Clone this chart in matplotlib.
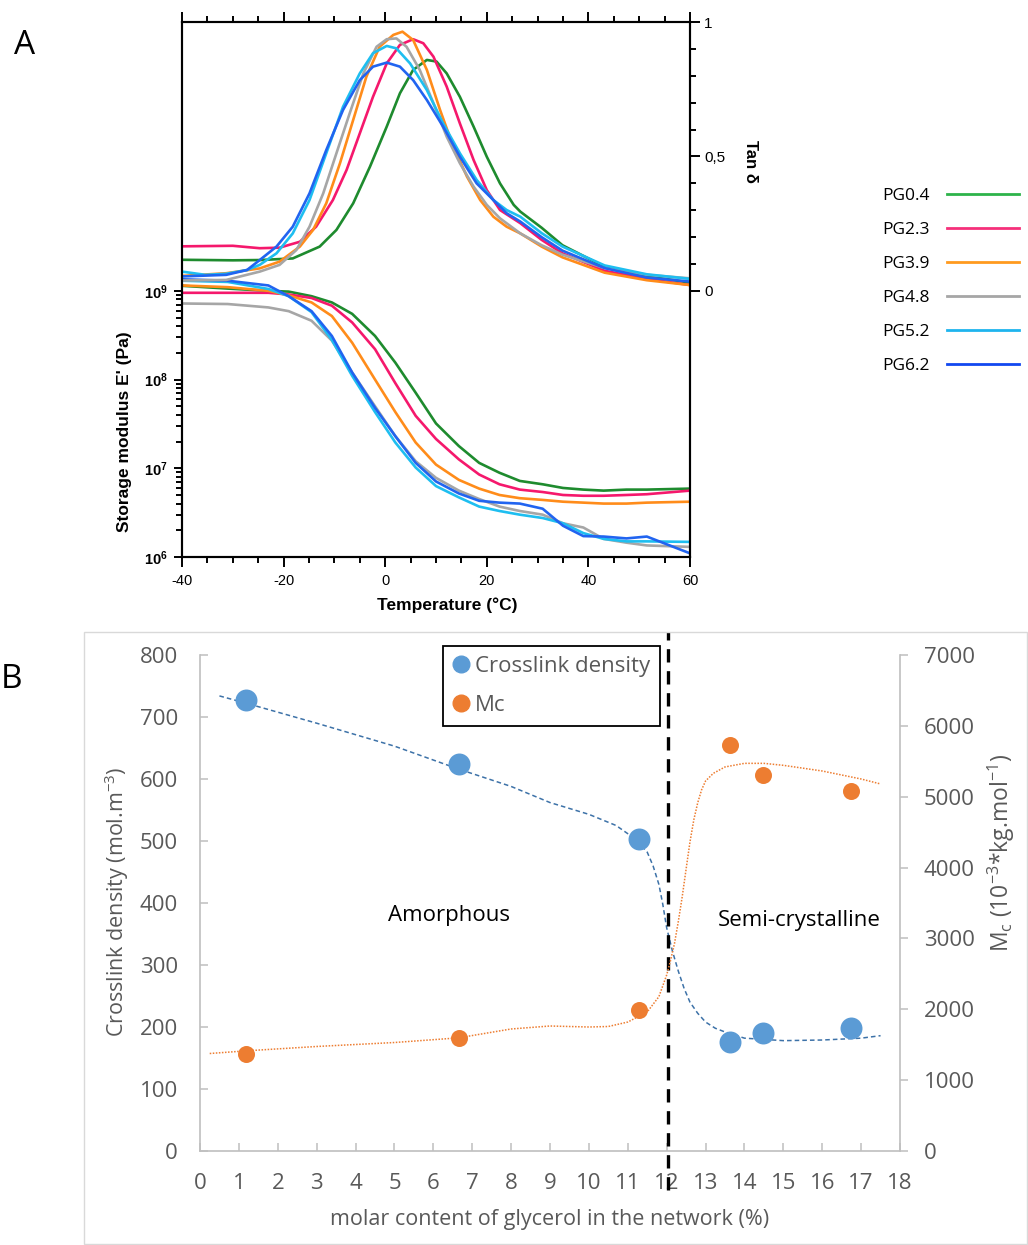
import numpy as np
import matplotlib
matplotlib.use('Agg')
import matplotlib.pyplot as plt
from matplotlib.ticker import FixedLocator, NullFormatter
from matplotlib.lines import Line2D
from matplotlib.patches import Rectangle

plt.rcParams['font.family'] = ['Liberation Sans', 'DejaVu Sans']
plt.rcParams['mathtext.fontset'] = 'custom'
plt.rcParams['mathtext.rm'] = 'Open Sans'
plt.rcParams['mathtext.it'] = 'Open Sans:italic'
plt.rcParams['mathtext.bf'] = 'Liberation Sans:bold'

# ---------------- Panel A data ----------------
samples = ['PG0.4', 'PG2.3', 'PG3.9', 'PG4.8', 'PG5.2', 'PG6.2']
colors_A = ['#1E8B2E', '#F5186C', '#FF8C1A', '#A6A6A6', '#1EBEF0', '#2164F0']
legend_colors_A = ['#2DB34A', '#F5307A', '#FF9A1F', '#A6A6A6', '#1EB4EE', '#1248F0']

T_E = [-40, -31, -23, -19, -14.5, -10.5, -6.5, -2, 2, 6, 10, 14.5, 18.5, 22.5,
       26.5, 31, 35, 39, 43, 47.5, 51.5, 60]
E_PG04 = [1.14e9, 1.06e9, 1.0e9, 9.8e8, 8.7e8, 7.4e8, 5.5e8, 3.1e8, 1.55e8, 7.1e7, 3.2e7,
          1.78e7, 1.15e7, 8.9e6, 7.2e6, 6.6e6, 6.0e6, 5.75e6, 5.6e6, 5.75e6, 5.75e6, 5.9e6]
E_PG23 = [9.5e8, 9.5e8, 9.5e8, 9.1e8, 8.3e8, 6.8e8, 4.4e8, 2.2e8, 9.1e7, 3.9e7, 2.14e7,
          1.26e7, 8.5e6, 6.6e6, 5.75e6, 5.4e6, 5.0e6, 4.9e6, 4.9e6, 5.0e6, 5.1e6, 5.6e6]
E_PG39 = [1.15e9, 1.1e9, 1.0e9, 8.9e8, 7.4e8, 5.2e8, 2.6e8, 1.0e8, 4.3e7, 1.95e7, 1.1e7,
          7.4e6, 5.9e6, 5.0e6, 4.6e6, 4.4e6, 4.2e6, 4.1e6, 4.0e6, 4.0e6, 4.1e6, 4.2e6]
E_PG48 = [7.2e8, 7.1e8, 6.5e8, 5.9e8, 4.6e8, 2.75e8, 1.2e8, 5.0e7, 2.3e7, 1.2e7, 7.8e6,
          5.6e6, 4.5e6, 3.7e6, 3.3e6, 3.0e6, 2.4e6, 2.15e6, 1.6e6, 1.45e6, 1.35e6, 1.3e6]
E_PG52 = [1.3e9, 1.26e9, 1.05e9, 8.7e8, 5.75e8, 2.8e8, 1.1e8, 4.3e7, 1.95e7, 1.02e7, 6.3e6,
          4.7e6, 3.7e6, 3.3e6, 3.0e6, 2.75e6, 2.4e6, 1.86e6, 1.6e6, 1.5e6, 1.5e6, 1.48e6]
E_PG62 = [1.35e9, 1.3e9, 1.15e9, 8.7e8, 5.9e8, 3.1e8, 1.2e8, 4.8e7, 2.3e7, 1.15e7, 7.1e6,
          5.2e6, 4.3e6, 4.1e6, 4.0e6, 3.5e6, 2.25e6, 1.72e6, 1.7e6, 1.62e6, 1.7e6, 1.1e6]
E_all = [E_PG04, E_PG23, E_PG39, E_PG48, E_PG52, E_PG62]

T_tan_PG04 = [-40, -30, -24.7, -18.2, -12.9, -9.6, -6.3, -3.0, 0.3, 2.9, 5.5, 8.2, 10.1, 12.1,
              14.7, 17.4, 20, 22.6, 25.3, 26.6, 30.8, 34.9, 43.2, 51.5, 60]
tan_PG04 = [0.116, 0.114, 0.115, 0.121, 0.165, 0.227, 0.326, 0.462, 0.611, 0.735, 0.822, 0.859,
            0.853, 0.809, 0.722, 0.611, 0.499, 0.40, 0.32, 0.295, 0.235, 0.17, 0.09, 0.055, 0.031]
T_tan_PG23 = [-40, -30, -24.7, -20.8, -16.8, -13.6, -10.3, -7.6, -5, -2.4, 0.3, 2.9, 5.5, 7.5,
              9.5, 12.1, 14.7, 17.4, 20, 22.6, 26.6, 30.8, 34.9, 43.2, 51.5, 60]
tan_PG23 = [0.166, 0.168, 0.159, 0.161, 0.183, 0.239, 0.338, 0.450, 0.586, 0.722, 0.846, 0.915,
            0.936, 0.921, 0.871, 0.76, 0.623, 0.487, 0.375, 0.301, 0.252, 0.19, 0.14, 0.075,
            0.045, 0.022]
T_tan_PG39 = [-40, -31.3, -24.7, -20.8, -16.8, -14.2, -11.6, -8.9, -6.3, -3.7, -1.1, 1.6, 3.4,
              5.5, 8.2, 10.8, 13.4, 16.1, 18.7, 21.3, 23.9, 26.6, 30.8, 34.9, 43.2, 51.5, 60]
tan_PG39 = [0.056, 0.066, 0.084, 0.109, 0.165, 0.227, 0.326, 0.475, 0.636, 0.797, 0.908, 0.952,
            0.964, 0.933, 0.822, 0.673, 0.537, 0.425, 0.338, 0.276, 0.239, 0.214, 0.165, 0.125,
            0.068, 0.04, 0.022]
T_tan_PG48 = [-40, -31.3, -24.7, -20.8, -17.5, -14.9, -12.2, -9.6, -7, -4.3, -1.7, 0.3, 2.2,
              4.2, 6.8, 9.5, 12.1, 14.7, 17.4, 20, 22.6, 26.6, 30.8, 34.9, 43.2, 51.5, 60]
tan_PG48 = [0.039, 0.041, 0.072, 0.097, 0.152, 0.239, 0.363, 0.512, 0.66, 0.809, 0.908, 0.936,
            0.939, 0.908, 0.822, 0.698, 0.574, 0.475, 0.388, 0.32, 0.27, 0.214, 0.17, 0.135,
            0.085, 0.06, 0.047]
T_tan_PG52 = [-40, -35.4, -31.3, -27.2, -24.7, -21.4, -18.2, -14.9, -11.6, -8.3, -5, -2.4, 0.3,
              2.2, 4.9, 8.2, 11.4, 14.7, 18, 21.3, 23.9, 26.6, 30.8, 34.9, 43.2, 51.5, 60]
tan_PG52 = [0.072, 0.06, 0.064, 0.078, 0.097, 0.14, 0.214, 0.338, 0.512, 0.685, 0.809, 0.884,
            0.911, 0.902, 0.846, 0.747, 0.623, 0.512, 0.413, 0.338, 0.301, 0.276, 0.215, 0.165,
            0.095, 0.062, 0.045]
T_tan_PG62 = [-40, -31.3, -27.2, -24.7, -21.4, -18.2, -14.9, -11.6, -8.3, -5, -2.4, 0.3, 2.9,
              5.5, 8.2, 11.4, 14.7, 18, 21.3, 23.9, 26.6, 30.8, 34.9, 43.2, 51.5, 60]
tan_PG62 = [0.054, 0.06, 0.078, 0.115, 0.165, 0.239, 0.363, 0.524, 0.673, 0.784, 0.834, 0.849,
            0.834, 0.784, 0.71, 0.611, 0.499, 0.40, 0.338, 0.289, 0.258, 0.2, 0.15, 0.085,
            0.05, 0.035]
T_tan_all = [T_tan_PG04, T_tan_PG23, T_tan_PG39, T_tan_PG48, T_tan_PG52, T_tan_PG62]
tan_all = [tan_PG04, tan_PG23, tan_PG39, tan_PG48, tan_PG52, tan_PG62]

# ---------------- Panel B data ----------------
glycerol = [1.18, 6.65, 11.28, 13.63, 14.48, 16.75]
crosslink_density = [727, 625, 503, 176, 190, 198]
Mc = [1376, 1598, 1995, 5731, 5305, 5083]
trend_cd_x = [0.5, 1.2, 3, 5, 6.65, 8, 9, 10, 10.7, 11.2, 11.5, 11.65, 11.8, 11.9, 12.0, 12.15,
              12.3, 12.45, 12.6, 12.8, 13.0, 13.25, 13.5, 14, 15, 16, 17, 17.5]
trend_cd_y = [734, 722, 690, 653, 616, 588, 562, 543, 525, 503, 482, 460, 430, 398, 360, 322,
              290, 262, 240, 222, 208, 198, 192, 182, 178, 179, 182, 186]
trend_mc_x = [0.25, 1.2, 3, 5, 6.65, 8, 9, 10, 10.5, 11, 11.5, 11.8, 12.0, 12.1, 12.2, 12.3,
              12.4, 12.5, 12.6, 12.7, 12.8, 12.9, 13.0, 13.2, 13.5, 14, 14.5, 15, 16, 17, 17.5]
trend_mc_y = [1376, 1414, 1475, 1531, 1597, 1722, 1764, 1750, 1757, 1820, 1962, 2178, 2484,
              2690, 2925, 3240, 3589, 3980, 4364, 4680, 4918, 5100, 5222, 5330, 5420, 5471,
              5471, 5443, 5363, 5250, 5180]
boundary_x = 12.03

W, H = 1028, 1245
def fx(px):
    return px / W
def fy(py):
    return 1 - py / H

fig = plt.figure(figsize=(W / 100, H / 100), dpi=100)

# ================= Panel A =================
axA = fig.add_axes([fx(182), fy(557), 508 / W, 535 / H])
axA.set_yscale('log')
axA.set_xlim(-40, 60)
axA.set_ylim(1e6, 10 ** 12.03)
axA2 = axA.twinx()
axA2.set_ylim(-0.989, 1.0)

for E, c in zip(E_all, colors_A):
    axA.plot(T_E, E, color=c, lw=1.9, solid_joinstyle='round')
for Tt, tv, c in zip(T_tan_all, tan_all, colors_A):
    axA2.plot(Tt, tv, color=c, lw=1.9, solid_joinstyle='round')

for a in (axA, axA2):
    for s in a.spines.values():
        s.set_linewidth(1.5)
        s.set_color('black')

axA.xaxis.set_major_locator(FixedLocator([-40, -20, 0, 20, 40, 60]))
axA.xaxis.set_minor_locator(FixedLocator([v for v in range(-35, 60, 5) if v % 20 != 0]))
axA.set_xticklabels(['-40', '-20', '0', '20', '40', '60'])
axA.tick_params(axis='x', which='both', direction='out', top=True, bottom=True,
                width=1.4, labelsize=10.5, pad=5)
axA.tick_params(axis='x', which='major', length=7)
axA.tick_params(axis='x', which='minor', length=4)

axA.yaxis.set_major_locator(FixedLocator([1e6, 1e7, 1e8, 1e9]))
axA.set_yticklabels([r'$\mathbf{10^{6}}$', r'$\mathbf{10^{7}}$', r'$\mathbf{10^{8}}$',
                     r'$\mathbf{10^{9}}$'])
axA.yaxis.set_minor_locator(FixedLocator([k * 10.0 ** e for e in (6, 7, 8) for k in range(2, 10)]))
axA.yaxis.set_minor_formatter(NullFormatter())
axA.tick_params(axis='y', which='both', direction='out', left=True, right=False,
                width=1.4, labelsize=10.5, pad=4)
axA.tick_params(axis='y', which='major', length=6)
axA.tick_params(axis='y', which='minor', length=4)

axA2.yaxis.set_major_locator(FixedLocator([0, 0.5, 1]))
axA2.set_yticklabels(['0', '0,5', '1'])
axA2.yaxis.set_minor_locator(FixedLocator([0.1, 0.2, 0.3, 0.4, 0.6, 0.7, 0.8, 0.9]))
axA2.yaxis.set_minor_formatter(NullFormatter())
axA2.tick_params(axis='y', which='both', direction='out', width=1.4, labelsize=11, pad=3)
axA2.tick_params(axis='y', which='major', length=7)
axA2.tick_params(axis='y', which='minor', length=4)

fig.text(fx(125), fy(432), "Storage modulus E' (Pa)", rotation=90, ha='center', va='center',
         fontsize=12.5, fontweight='bold')
fig.text(fx(750), fy(161), 'Tan δ', rotation=-90, ha='center', va='center',
         fontsize=12, fontweight='bold')
fig.text(fx(447), fy(605), 'Temperature (°C)', ha='center', va='center',
         fontsize=12.5, fontweight='bold')

handles_A = [Line2D([], [], color=c, lw=2) for c in legend_colors_A]
fig.legend(handles_A, samples, loc='upper right', bbox_to_anchor=(fx(1019), fy(188)),
           frameon=False, markerfirst=False, handlelength=4.15, handletextpad=1.0,
           labelspacing=1.03, prop={'family': 'Open Sans', 'size': 12.5},
           borderaxespad=0, borderpad=0)

fig.text(fx(25), fy(45), 'A', ha='center', va='center', fontsize=24, family='Open Sans')

# ================= Panel B =================
grey_spine = '#BFBFBF'
grey_text = '#595959'
blue = '#5B9BD5'
orange = '#ED7D31'

fig.add_artist(Rectangle((fx(84), fy(1244)), (1027 - 84) / W, (1244 - 632) / H,
                         transform=fig.transFigure, fill=False, edgecolor='#D9D9D9', lw=1))

axB = fig.add_axes([fx(200), fy(1151), 700 / W, 496 / H])
axB.set_xlim(0, 18)
axB.set_ylim(0, 800)
axB2 = axB.twinx()
axB2.set_ylim(0, 7000)

axB.plot(trend_cd_x, trend_cd_y, color='#3D72A8', lw=1.1, ls=(0, (3, 2)), zorder=2)
axB.scatter(glycerol, crosslink_density, s=250, color=blue, zorder=3, linewidths=0)
axB2.plot(trend_mc_x, trend_mc_y, color=orange, lw=1.1, ls=(0, (1, 1)), zorder=2)
axB2.scatter(glycerol, Mc, s=150, color=orange, zorder=3, linewidths=0)

axB.axvline(boundary_x, ymin=-0.078, ymax=1.046, clip_on=False, color='black', lw=2.4,
            dashes=(4.0, 2.6), zorder=5)

for a in (axB, axB2):
    a.spines['top'].set_visible(False)
    for s in a.spines.values():
        s.set_color(grey_spine)
        s.set_linewidth(1.2)
axB.spines['right'].set_visible(False)
axB2.spines['left'].set_visible(False)
axB2.spines['bottom'].set_visible(False)

bfont = 'Open Sans'
axB.xaxis.set_major_locator(FixedLocator(list(range(0, 19))))
axB.yaxis.set_major_locator(FixedLocator(list(range(0, 801, 100))))
axB2.yaxis.set_major_locator(FixedLocator(list(range(0, 7001, 1000))))
axB.tick_params(axis='x', direction='in', length=6, width=1.1, color=grey_spine,
                labelcolor=grey_text, labelsize=16, pad=16)
axB.tick_params(axis='y', direction='in', length=6, width=1.1, color=grey_spine,
                labelcolor=grey_text, labelsize=16, pad=16)
axB2.tick_params(axis='y', direction='out', length=6, width=1.1, color=grey_spine,
                 labelcolor=grey_text, labelsize=16, pad=11)
for lab in axB.get_xticklabels() + axB.get_yticklabels() + axB2.get_yticklabels():
    lab.set_family(bfont)

fig.text(fx(117), fy(902), 'Crosslink density (mol.m$^{-3}$)', rotation=90, ha='center',
         va='center', fontsize=15.5, color=grey_text, family=bfont)
fig.text(fx(1001), fy(853), r'M$_{\mathrm{c}}$ (10$^{-3}$*kg.mol$^{-1}$)', rotation=90,
         ha='center', va='center', fontsize=16.5, color=grey_text, family=bfont)
fig.text(fx(550), fy(1220), 'molar content of glycerol in the network (%)', ha='center',
         va='center', fontsize=15.5, color=grey_text, family=bfont)

axB.text(6.4, 380, 'Amorphous', ha='center', va='center', fontsize=16, family=bfont,
         color='black')
axB2.text(15.4, 3260, 'Semi-crystalline', ha='center', va='center', fontsize=16, family=bfont,
          color='black')

handles_B = [Line2D([], [], marker='o', ls='', color=blue, ms=12),
             Line2D([], [], marker='o', ls='', color=orange, ms=12)]
legB = axB2.legend(handles_B, ['Crosslink density', 'Mc'], loc='upper left',
                   bbox_to_anchor=(fx(443), fy(646)), bbox_transform=fig.transFigure,
                   frameon=True, fancybox=False, framealpha=1, edgecolor='black',
                   prop={'family': bfont, 'size': 16}, labelcolor=grey_text,
                   handlelength=0.7, handletextpad=0.3, borderpad=0.45,
                   labelspacing=0.8, borderaxespad=0)
legB.get_frame().set_linewidth(1.3)
legB.set_zorder(10)

fig.text(fx(11), fy(680), 'B', ha='center', va='center', fontsize=24, family='Open Sans')

fig.savefig('out.png', dpi=100)
